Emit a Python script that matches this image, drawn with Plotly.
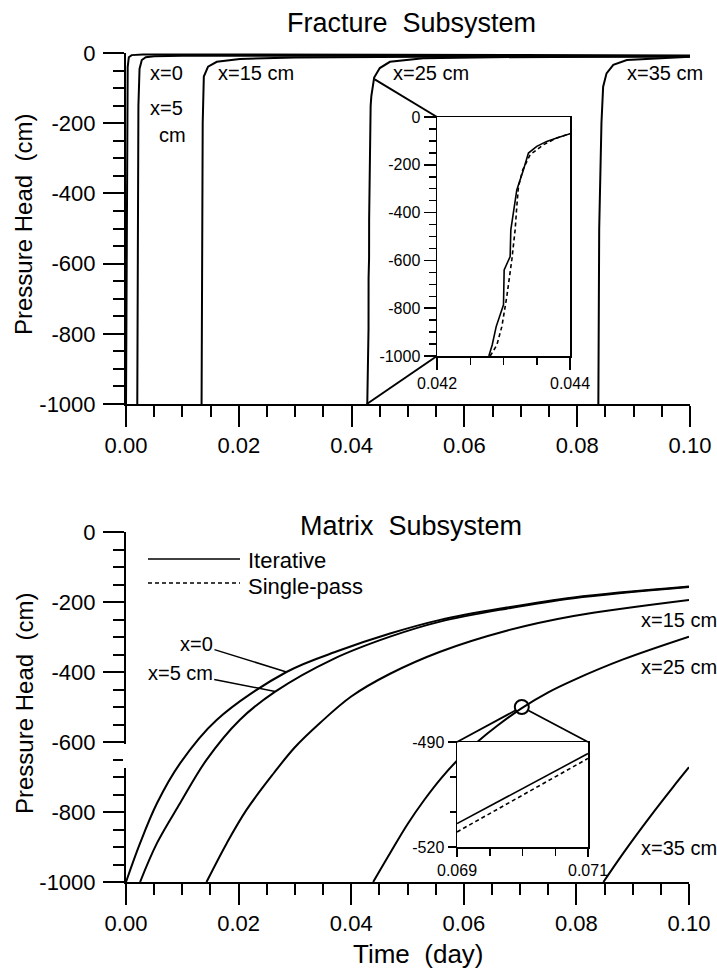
import numpy as np
import plotly.graph_objects as go

W, H = 717, 968
FONT = "Liberation Sans, Arial, Helvetica, sans-serif"
NB = "\u00a0"

# ---------------- data: Fracture subsystem (top panel) ----------------
frac_t_x0 = [0.0000, 0.0002, 0.0003, 0.0005, 0.0010, 0.0030, 0.0100, 0.0400, 0.0700, 0.1000]
frac_h_x0 = [-1000, -500, -40, -12, -6, -4, -4, -5, -6, -7]
frac_t_x5 = [0.0020, 0.0021, 0.0022, 0.0024, 0.0028, 0.0035, 0.0050, 0.0100, 0.0400, 0.0700, 0.1000]
frac_h_x5 = [-1000, -500, -150, -45, -20, -12, -9, -8, -8, -8, -9]
frac_t_x15 = [0.0134, 0.0135, 0.0136, 0.0138, 0.01455, 0.0161, 0.0202, 0.0300, 0.0600, 0.1000]
frac_h_x15 = [-1000, -500, -200, -67, -39, -25, -17, -13, -10, -10]
frac_t_x25 = [0.04278, 0.04283, 0.04289, 0.04300, 0.04301, 0.04310, 0.04311, 0.04320, 0.04330,
              0.043375, 0.04350, 0.04365, 0.04380, 0.04400, 0.04500, 0.04680, 0.05270, 0.06500, 0.10000]
frac_h_x25 = [-1000, -954, -877, -786, -640, -584, -472, -305, -221,
              -151, -123, -102, -88, -70, -43, -25, -15, -12, -9]
frac_sp_t_x25 = [0.04280, 0.04290, 0.042975, 0.04305, 0.043125, 0.043175, 0.04320, 0.043225,
                 0.04329, 0.04340, 0.04360, 0.04380, 0.04400]
frac_sp_h_x25 = [-1000, -954, -877, -751, -598, -472, -374, -291, -221, -158, -116, -88, -70]
frac_t_x35 = [0.08375, 0.0839, 0.0843, 0.0846, 0.0852, 0.0864, 0.0888, 0.0970, 0.1000]
frac_h_x35 = [-1000, -500, -200, -96, -58, -34, -20, -12, -11]

# ---------------- data: Matrix subsystem (bottom panel) ----------------
mat_t_x0 = [0.0000, 0.0025, 0.0055, 0.0096, 0.0161, 0.0285, 0.0380, 0.0469, 0.0558, 0.0676, 0.0795, 0.1000]
mat_h_x0 = [-1000, -889, -775, -661, -537, -400, -338, -290, -251, -216, -187, -156]
mat_t_x5 = [0.0025, 0.0055, 0.0096, 0.0143, 0.0202, 0.0265, 0.0368, 0.0469, 0.0558, 0.0676, 0.0795, 0.1000]
mat_h_x5 = [-1000, -889, -775, -651, -537, -456, -363, -299, -256, -219, -189, -157]
mat_t_x15 = [0.0143, 0.0179, 0.0214, 0.0262, 0.0300, 0.0345, 0.0400, 0.0469, 0.0558, 0.0676, 0.0795, 0.1000]
mat_h_x15 = [-1000, -889, -794, -690, -615, -545, -470, -405, -342, -282, -240, -194]
mat_t_x25 = [0.0439, 0.0470, 0.0500, 0.0530, 0.0560, 0.0590, 0.0626, 0.0660, 0.0703, 0.0750, 0.0795, 0.0883, 0.1000]
mat_h_x25 = [-1000, -915, -835, -765, -703, -650, -597, -553, -503, -458, -423, -364, -299]
mat_t_x35 = [0.0848, 0.0883, 0.0931, 0.0972, 0.1000]
mat_h_x35 = [-1000, -918, -813, -728, -672]
# zoomed detail of x=25 cm matrix curve
mat_it_t_zoom = [0.0690, 0.0695, 0.0700, 0.0705, 0.0710]
mat_it_h_zoom = [-513.3, -508.3, -503.4, -498.3, -493.3]
mat_sp_t_zoom = [0.0690, 0.0695, 0.0700, 0.0705, 0.0710]
mat_sp_h_zoom = [-515.7, -510.5, -505.2, -500.0, -494.7]
zoom_circle_t = [0.0703]
zoom_circle_h = [-500]
# points on the fracture x=25 curve that the inset connectors start from
frac_anchor_t = [0.0441, 0.0427]
frac_anchor_h = [-75, -1000]

# ---------------- ticks ----------------
time_ticks = [0.00, 0.02, 0.04, 0.06, 0.08, 0.10]
time_ticktext = ["0.00", "0.02", "0.04", "0.06", "0.08", "0.10"]
head_ticks = [0, -200, -400, -600, -800, -1000]
head_ticktext = ["0", "-200", "-400", "-600", "-800", "-1000"]
frac_zoom_ticks = [0.042, 0.044]
frac_zoom_ticktext = ["0.042", "0.044"]
mat_zoom_ticks = [0.069, 0.071]
mat_zoom_ticktext = ["0.069", "0.071"]
mat_zoom_hticks = [-490, -520]
mat_zoom_hticktext = ["-490", "-520"]
mat_zoom_hminor = [-500, -510]

# ---------------- layout geometry (pixels -> paper) ----------------
def xd(p0, p1):
    return [p0 / W, p1 / W]

def yd(pb, pt):
    return [1 - pb / H, 1 - pt / H]

dom = {
    "top_x": xd(126, 690), "top_y": yd(404, 53),
    "ti_x": xd(437, 570), "ti_y": yd(356, 117),
    "bot_x": xd(126, 689), "bot_y": yd(882, 532),
    "bi_x": xd(457, 588), "bi_y": yd(847, 742),
}

fig = go.Figure()

def line(t, h, xa, ya, width=2, dash=None, shape="linear"):
    fig.add_trace(go.Scatter(x=t, y=h, mode="lines", xaxis=xa, yaxis=ya,
                             line=dict(color="black", width=width, dash=dash, shape=shape),
                             showlegend=False, hoverinfo="skip"))

# top main
for t, h in [(frac_t_x0, frac_h_x0), (frac_t_x5, frac_h_x5), (frac_t_x15, frac_h_x15),
             (frac_t_x25, frac_h_x25), (frac_t_x35, frac_h_x35)]:
    line(t, h, "x", "y")
# top inset
line(frac_t_x25, frac_h_x25, "x2", "y2", width=1.6)
line(frac_sp_t_x25, frac_sp_h_x25, "x2", "y2", width=1.6, dash="4px,3px")
# bottom main
for t, h in [(mat_t_x0, mat_h_x0), (mat_t_x5, mat_h_x5), (mat_t_x15, mat_h_x15),
             (mat_t_x25, mat_h_x25), (mat_t_x35, mat_h_x35)]:
    line(t, h, "x3", "y3", shape="spline")
# bottom inset
line(mat_it_t_zoom, mat_it_h_zoom, "x4", "y4", width=1.6)
line(mat_sp_t_zoom, mat_sp_h_zoom, "x4", "y4", width=1.6, dash="4px,3px")
# circle marking zoom location
fig.add_trace(go.Scatter(x=zoom_circle_t, y=zoom_circle_h, mode="markers", xaxis="x3", yaxis="y3",
                         marker=dict(symbol="circle-open", size=14, color="black", line=dict(width=2)),
                         showlegend=False, hoverinfo="skip", cliponaxis=False))

tickfont_main = dict(size=22, family=FONT, color="black")
tickfont_in = dict(size=16, family=FONT, color="black")

def axis_main_x(domain, anchor):
    return dict(domain=domain, anchor=anchor, range=[0, 0.1], tickmode="array", automargin=False,
                tickvals=time_ticks, ticktext=time_ticktext, ticks="outside", ticklen=21,
                tickwidth=2, tickcolor="black", showline=True, linewidth=2, linecolor="black",
                showgrid=False, zeroline=False, tickfont=tickfont_main,
                minor=dict(tickmode="linear", tick0=0, dtick=0.005, ticks="outside",
                           ticklen=11, tickwidth=2, tickcolor="black", showgrid=False))

def axis_main_y(domain, anchor):
    return dict(domain=domain, anchor=anchor, range=[-1000, 0], tickmode="array", automargin=False,
                tickvals=head_ticks, ticktext=head_ticktext, ticks="outside", ticklen=21,
                tickwidth=2, tickcolor="black", showline=True, linewidth=2, linecolor="black",
                showgrid=False, zeroline=False, tickfont=tickfont_main, ticklabelstandoff=3,
                minor=dict(tickmode="linear", tick0=0, dtick=50, ticks="outside",
                           ticklen=11, tickwidth=2, tickcolor="black", showgrid=False))

def axis_inset(domain, anchor, rng, tv, tt, major_len, minor):
    return dict(domain=domain, anchor=anchor, range=rng, tickmode="array", automargin=False,
                tickvals=tv, ticktext=tt, ticks="outside",
                ticklen=major_len, tickwidth=1.5, tickcolor="black", showline=True, mirror=True,
                linewidth=1.5, linecolor="black", showgrid=False, zeroline=False, tickfont=tickfont_in,
                minor=minor)

fig.update_layout(
    xaxis=axis_main_x(dom["top_x"], "y"),
    yaxis=axis_main_y(dom["top_y"], "x"),
    xaxis3=axis_main_x(dom["bot_x"], "y3"),
    yaxis3=axis_main_y(dom["bot_y"], "x3"),
    xaxis2=axis_inset(dom["ti_x"], "y2", [0.042, 0.044], frac_zoom_ticks, frac_zoom_ticktext, 12,
                      dict(tickmode="linear", tick0=0.042, dtick=0.0005, ticks="outside",
                           ticklen=7, tickwidth=1.5, tickcolor="black")),
    yaxis2=axis_inset(dom["ti_y"], "x2", [-1000, 0], head_ticks, head_ticktext, 12,
                      dict(tickmode="linear", tick0=0, dtick=50, ticks="outside",
                           ticklen=7, tickwidth=1.5, tickcolor="black")),
    xaxis4=axis_inset(dom["bi_x"], "y4", [0.069, 0.071], mat_zoom_ticks, mat_zoom_ticktext, 8,
                      dict(tickmode="linear", tick0=0.069, dtick=0.0005, ticks="outside",
                           ticklen=7, tickwidth=1.5, tickcolor="black")),
    yaxis4=axis_inset(dom["bi_y"], "x4", [-520, -490], mat_zoom_hticks, mat_zoom_hticktext, 8,
                      dict(tickmode="array", tickvals=mat_zoom_hminor, ticks="outside",
                           ticklen=6, tickwidth=1.5, tickcolor="black")),
    width=W, height=H, autosize=False,
    margin=dict(l=0, r=0, t=0, b=0, autoexpand=False),
    paper_bgcolor="white", plot_bgcolor="white",
    font=dict(family=FONT, color="black"),
    showlegend=False,
)

# ---------------- helpers: data -> paper ----------------
def to_paper(t, h, xdom, ydom, xr, yr):
    px = xdom[0] + (t - xr[0]) / (xr[1] - xr[0]) * (xdom[1] - xdom[0])
    py = ydom[0] + (h - yr[0]) / (yr[1] - yr[0]) * (ydom[1] - ydom[0])
    return px, py

shapes = []
# top inset connectors
corners_top = [(dom["ti_x"][0], dom["ti_y"][1]), (dom["ti_x"][0], dom["ti_y"][0])]
for (t, h), (cx, cy) in zip(zip(frac_anchor_t, frac_anchor_h), corners_top):
    px, py = to_paper(t, h, dom["top_x"], dom["top_y"], [0, 0.1], [-1000, 0])
    shapes.append(dict(type="line", xref="paper", yref="paper", x0=px, y0=py, x1=cx, y1=cy,
                       line=dict(color="black", width=2)))
# bottom inset connectors (from circle edge)
cpx, cpy = to_paper(zoom_circle_t[0], zoom_circle_h[0], dom["bot_x"], dom["bot_y"], [0, 0.1], [-1000, 0])
c_pix = np.array([cpx * W, (1 - cpy) * H])
for (cx, cy) in [(dom["bi_x"][0], dom["bi_y"][1]), (dom["bi_x"][1], dom["bi_y"][1])]:
    k_pix = np.array([cx * W, (1 - cy) * H])
    d = k_pix - c_pix
    s = c_pix + 7 * d / np.linalg.norm(d)
    shapes.append(dict(type="line", xref="paper", yref="paper",
                       x0=s[0] / W, y0=1 - s[1] / H, x1=cx, y1=cy,
                       line=dict(color="black", width=1.8)))
# break in the lower y-axis line (as in the original print)
shapes.append(dict(type="rect", xref="paper", yref="paper", x0=123 / W, x1=129 / W,
                   y0=1 - 768 / H, y1=1 - 744 / H, fillcolor="white", line=dict(width=0),
                   layer="above"))
# legend samples
shapes.append(dict(type="line", xref="paper", yref="paper", x0=148 / W, x1=240 / W,
                   y0=1 - 559 / H, y1=1 - 559 / H, line=dict(color="black", width=1.6)))
shapes.append(dict(type="line", xref="paper", yref="paper", x0=148 / W, x1=240 / W,
                   y0=1 - 583 / H, y1=1 - 583 / H, line=dict(color="black", width=1.6, dash="4px,3px")))
fig.update_layout(shapes=shapes)

ann = []
def txt(text, x, y, size, xanchor="center", xref="paper", yref="paper", angle=0):
    ann.append(dict(text=text, x=x, y=y, xref=xref, yref=yref, showarrow=False,
                    xanchor=xanchor, yanchor="middle", textangle=angle,
                    font=dict(size=size, family=FONT, color="black")))

# titles
txt("Fracture" + NB + " Subsystem", 411 / W, 1 - 23 / H, 27)
txt("Matrix" + NB + " Subsystem", 411 / W, 1 - 526 / H, 27)
txt("Time" + NB + " (day)", 418 / W, 1 - 954 / H, 26)
txt("Pressure Head" + NB + " (cm)", 24 / W, 1 - 225 / H, 24, angle=-90)
txt("Pressure Head" + NB + " (cm)", 24 / W, 1 - 704 / H, 24, angle=-90)
# legend texts
txt("Iterative", 246 / W, 1 - 560 / H, 22, xanchor="left")
txt("Single-pass", 246 / W, 1 - 586 / H, 22, xanchor="left")
# top labels
txt("x=0", 0.0071, -57, 20, xref="x", yref="y")
txt("x=5", 0.0071, -157, 20, xref="x", yref="y")
txt("cm", 0.0082, -234, 20, xref="x", yref="y")
txt("x=15 cm", 0.0230, -57, 20, xref="x", yref="y")
txt("x=25 cm", 0.0540, -57, 20, xref="x", yref="y")
txt("x=35 cm", 0.0955, -57, 20, xref="x", yref="y")
# bottom labels
txt("x=15 cm", 0.0983, -251, 20, xref="x3", yref="y3")
txt("x=25 cm", 0.0983, -386, 20, xref="x3", yref="y3")
txt("x=35 cm", 0.0983, -903, 20, xref="x3", yref="y3")
for text, t, h, ax, ay in [("x=0", 0.0285, -400, -90, -28), ("x=5 cm", 0.0265, -456, -95, -19)]:
    ann.append(dict(text=text, x=t, y=h, xref="x3", yref="y3", showarrow=True, arrowhead=0,
                    arrowwidth=1.5, arrowcolor="black", ax=ax, ay=ay, standoff=0,
                    font=dict(size=20, family=FONT, color="black")))
fig.update_layout(annotations=ann)

fig.write_html("out.html", config={"displayModeBar": False, "staticPlot": True},
               post_script="document.body.style.margin='0';document.body.style.overflow='hidden';")
